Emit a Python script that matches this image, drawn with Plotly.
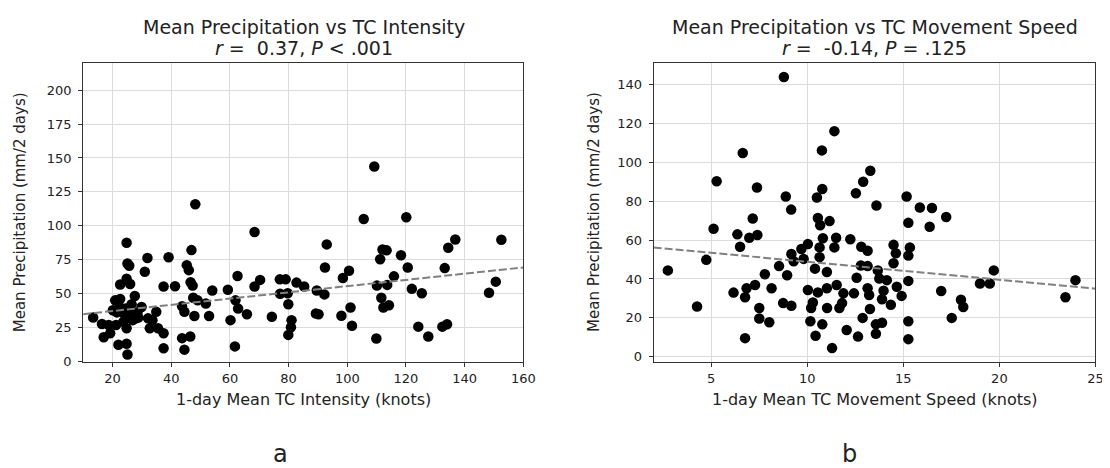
import plotly.graph_objects as go

# ── Data ──────────────────────────────────────────────────────────────────────

# panel a: 1-day mean TC intensity (knots) vs mean precipitation (mm/2 days)
INTENSITY = [
    48.2, 68.4, 24.8, 46.9, 31.9, 39.1, 25.1, 25.7, 45.3, 46.0, 31.0, 24.8,
    22.6, 26.0, 37.4, 41.3, 46.6, 47.3, 62.6, 68.4, 70.3, 77.0, 79.0, 82.7,
    85.3, 54.0, 59.3, 27.6, 47.5, 49.0, 51.8, 61.9, 62.8, 77.1, 79.7, 79.9,
    20.9, 22.6, 20.1, 22.4, 24.5, 29.9, 34.9, 43.7, 44.5, 47.9, 52.9, 65.8,
    74.3, 13.4, 16.4, 18.7, 21.2, 24.8, 26.9, 28.8, 32.1, 33.6, 32.7, 35.5,
    37.4, 24.8, 60.2, 81.0, 80.8, 79.9, 17.0, 19.2, 43.7, 46.5, 22.0, 24.8,
    37.4, 44.5, 61.7, 25.1, 26.0, 28.0, 23.7, 26.5, 28.5, 24.0, 21.5,
    109.2, 105.6, 120.1, 136.8, 134.4, 152.5, 93.0, 112.0, 113.4, 111.2,
    118.3, 92.4, 120.6, 133.2, 100.6, 98.5, 115.9, 89.6, 92.2, 110.1, 113.6,
    122.0, 125.4, 148.3, 150.6, 111.6, 112.3, 114.2, 101.1, 89.3, 90.2, 98.0,
    101.6, 124.2, 132.4, 134.0, 127.6, 109.9,
]
PRECIP_A = [
    115.8, 95.4, 87.4, 82.0, 76.2, 76.7, 72.1, 70.4, 70.9, 67.2, 66.0, 60.9,
    56.6, 57.0, 55.1, 55.3, 58.3, 55.8, 62.9, 55.1, 60.0, 60.4, 60.4, 58.0,
    55.1, 52.2, 52.7, 48.1, 46.8, 44.9, 42.5, 44.9, 38.8, 49.8, 50.2, 42.0,
    44.9, 45.9, 37.6, 40.0, 38.8, 40.0, 36.4, 40.5, 36.4, 33.3, 33.3, 34.7,
    32.8, 32.3, 27.4, 26.7, 26.7, 31.6, 30.3, 32.3, 31.6, 30.3, 24.3, 24.3,
    20.6, 24.3, 30.3, 30.3, 25.0, 19.4, 17.7, 20.6, 17.0, 18.2, 12.1, 12.9,
    9.5, 8.5, 10.9, 4.9, 35.2, 31.6, 29.1, 42.0, 36.0, 35.0, 36.0,
    143.7, 104.9, 106.3, 89.8, 83.7, 89.6, 86.2, 82.5, 81.8, 75.2,
    78.2, 69.2, 69.2, 68.7, 66.7, 61.4, 62.6, 52.2, 49.3, 55.8, 56.3,
    53.4, 50.2, 50.5, 58.7, 46.8, 39.6, 41.3, 39.6, 35.2, 34.7, 33.5,
    26.2, 25.5, 25.5, 27.2, 18.2, 16.7,
]
TREND_A_X = [10, 160]
TREND_A_Y = [34.7, 69.2]

# panel b: 1-day mean TC movement speed (knots) vs mean precipitation
SPEED = [
    8.78, 11.41, 10.76, 6.64, 13.28, 5.28, 12.91, 12.53, 7.38, 10.78, 8.88,
    10.50, 13.60, 9.16, 5.12, 7.16, 10.55, 10.67, 11.16, 6.36, 6.98, 7.40,
    6.50, 4.74, 2.74, 4.26, 6.16, 6.84, 6.76, 7.28, 7.79, 8.14, 7.50, 7.50,
    8.02, 6.76, 8.53, 8.95, 8.74, 9.17, 9.17, 9.29, 9.69, 9.81, 10.03, 10.40,
    10.03, 10.29, 10.20, 10.16, 10.43, 10.78, 11.29, 10.55, 11.02, 11.03,
    11.02, 10.81, 11.50, 11.41, 10.64, 10.64, 11.53, 11.88, 11.81, 11.67,
    12.24, 12.81, 13.14, 12.79, 13.14, 12.57, 12.43, 13.14, 13.22, 13.26,
    12.88, 12.05, 12.64, 13.57, 13.57, 13.67,
    15.17, 15.86, 16.49, 17.23, 15.26, 16.37, 14.49, 14.61, 14.49, 15.34,
    15.26, 13.75, 14.14, 15.26, 13.97, 13.89, 14.66, 14.91, 14.35, 13.89,
    15.26, 15.26, 16.97, 18.00, 18.12, 17.52, 18.99, 19.50, 19.71, 23.44,
    23.96,
]
PRECIP_B = [
    143.7, 115.9, 106.0, 104.7, 95.6, 90.2, 89.9, 84.0, 87.0, 86.2, 82.3,
    81.8, 77.7, 75.6, 65.8, 71.0, 71.3, 67.6, 69.7, 62.9, 61.2, 62.6,
    56.5, 49.8, 44.4, 25.9, 33.0, 35.2, 30.6, 36.9, 42.4, 35.2, 25.1, 19.7,
    17.8, 9.6, 46.6, 41.9, 27.6, 26.2, 52.8, 49.1, 55.4, 50.3, 57.9, 45.3,
    34.3, 27.9, 25.1, 18.3, 10.8, 16.7, 4.5, 33.1, 35.2, 25.1,
    43.6, 60.9, 61.2, 56.2, 56.2, 51.2, 36.9, 32.6, 27.6, 25.1,
    60.4, 56.5, 54.5, 46.9, 46.6, 40.6, 32.6, 35.2, 31.8, 24.6,
    20.0, 13.8, 10.4, 16.7, 11.9, 44.4,
    82.3, 76.7, 76.4, 71.8, 68.8, 66.8, 57.5, 53.2, 48.1, 56.2,
    52.0, 40.2, 39.4, 39.0, 34.0, 29.6, 36.0, 31.3, 26.8, 17.5,
    18.3, 9.1, 33.8, 29.3, 25.6, 20.0, 37.7, 37.7, 44.4, 30.6,
    39.4,
]
TREND_B_X = [2, 25]
TREND_B_Y = [56.2, 35.0]

W, H = 1110, 468
FONT = "DejaVu Sans"
TXT = "#222222"


def px_x(v):
    return v / W


def px_y(v):
    return 1 - v / H


# ── Figure ────────────────────────────────────────────────────────────────────

fig = go.Figure()

for xs, ys, tx, ty, xa, ya in [
    (INTENSITY, PRECIP_A, TREND_A_X, TREND_A_Y, "x", "y"),
    (SPEED, PRECIP_B, TREND_B_X, TREND_B_Y, "x2", "y2"),
]:
    fig.add_trace(go.Scatter(
        x=xs, y=ys, mode="markers", xaxis=xa, yaxis=ya,
        marker=dict(color="black", size=10.5, line=dict(width=0)),
    ))
    fig.add_trace(go.Scatter(
        x=tx, y=ty, mode="lines", xaxis=xa, yaxis=ya,
        line=dict(color="#808080", width=2, dash="8px,3px"),
    ))

axis_common = dict(
    showline=True, linecolor="#333333", linewidth=1, mirror=True,
    ticks="outside", ticklen=4, tickcolor="#333333",
    showgrid=True, gridcolor="#dcdcdc", gridwidth=1, zeroline=False,
    tickfont=dict(family=FONT, size=13, color=TXT),
)

fig.update_layout(
    width=W, height=H,
    margin=dict(l=0, r=0, t=0, b=0),
    paper_bgcolor="white", plot_bgcolor="white",
    showlegend=False,
    font=dict(family=FONT, color=TXT),
    xaxis=dict(domain=[px_x(76), px_x(521)], range=[10, 160], tick0=0, dtick=20,
               anchor="y", **axis_common),
    yaxis=dict(domain=[px_y(359.5), px_y(56)], range=[-0.7, 220], tick0=0, dtick=25,
               anchor="x", ticklabelstandoff=4, **axis_common),
    xaxis2=dict(domain=[px_x(652.7), px_x(1099.3)], range=[2, 25], tick0=0, dtick=5,
                anchor="y2", **axis_common),
    yaxis2=dict(domain=[px_y(359.5), px_y(56)], range=[-2.7, 150.8], tick0=0, dtick=20,
                anchor="x2", ticklabelstandoff=4, **axis_common),
)

annotations = []


def label(text, x, y, size, angle=0):
    annotations.append(dict(
        text=text, x=px_x(x), y=px_y(y), xref="paper", yref="paper",
        xanchor="center", yanchor="middle", showarrow=False, textangle=angle,
        font=dict(family=FONT, size=size, color=TXT),
    ))


# titles
label("Mean Precipitation vs TC Intensity", 299, 19, 19)
label("<i>r</i> =\u00a0 0.37, <i>P</i> &lt; .001", 299, 41, 19)
label("Mean Precipitation vs TC Movement Speed", 876, 19, 19)
label("<i>r</i> =\u00a0 -0.14, <i>P</i> = .125", 876, 41, 19)

# axis titles
label("1-day Mean TC Intensity (knots)", 299, 397, 16)
label("1-day Mean TC Movement Speed (knots)", 876, 397, 16)
label("Mean Precipitation (mm/2 days)", 13, 207.5, 15, angle=-90)
label("Mean Precipitation (mm/2 days)", 593, 207.5, 15, angle=-90)

# panel letters
label("a", 275, 453, 24)
label("b", 851, 453, 24)

fig.update_layout(annotations=annotations)

fig.write_html("out.html")
